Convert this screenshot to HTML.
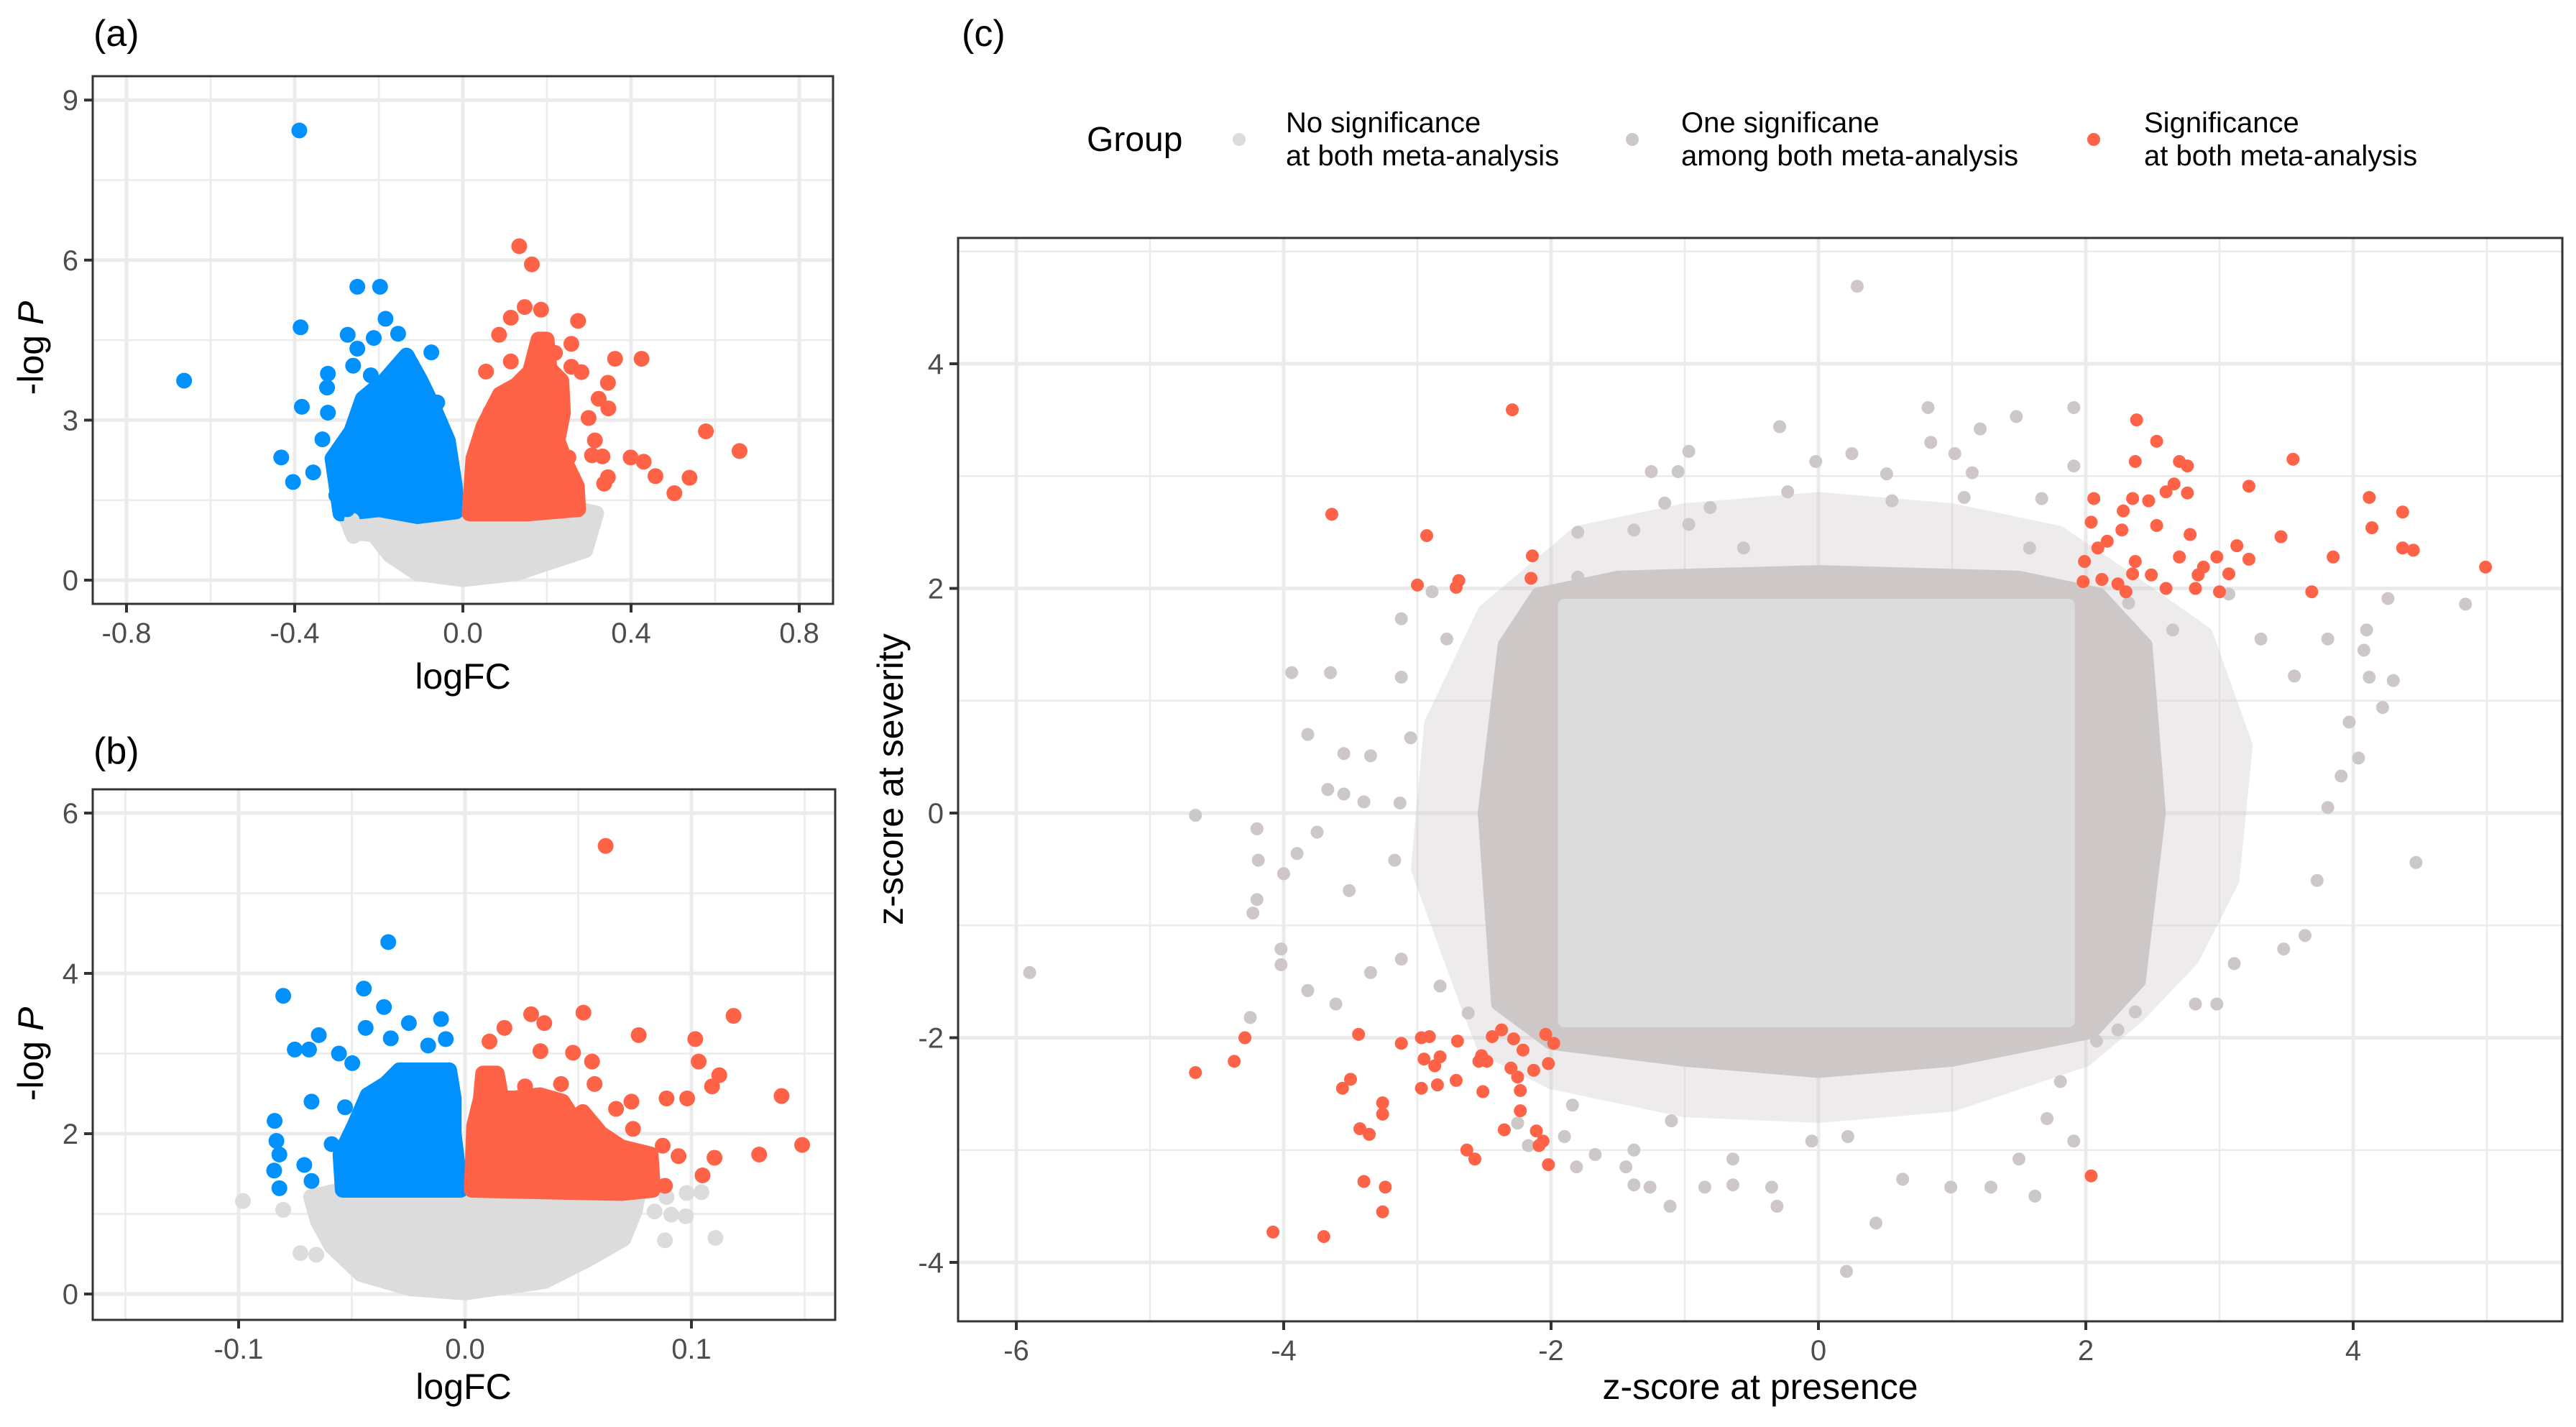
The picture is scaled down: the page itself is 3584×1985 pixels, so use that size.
<!DOCTYPE html>
<html><head><meta charset="utf-8"><style>
html,body{margin:0;padding:0;background:#fff;}
svg{display:block;font-family:"Liberation Sans",Arial,sans-serif;}
</style></head><body>
<svg id="fig" width="3584" height="1985" viewBox="0 0 3584 1985" xmlns="http://www.w3.org/2000/svg">
<rect x="0" y="0" width="3584" height="1985" fill="#fff"/>
<g id="layer"></g>
</svg>
<script>
// ---- Panel (a) data ----
const aBlueX=[-0.389,-0.663,-0.386,-0.383,-0.432,-0.404,-0.356,-0.251,-0.197,-0.184,-0.274,-0.212,-0.154,-0.251,-0.261,-0.219,-0.075,-0.321,-0.323,-0.321,-0.334,-0.301,-0.275,-0.061,-0.058,-0.048];
const aBlueY=[8.43,3.74,4.74,3.25,2.30,1.84,2.02,5.50,5.50,4.90,4.60,4.54,4.62,4.34,4.02,3.84,4.27,3.87,3.61,3.14,2.64,1.59,1.33,3.33,3.01,2.49];
const aBlueHullX=[-0.291,-0.310,-0.265,-0.238,-0.186,-0.134,-0.101,-0.069,-0.036,-0.019,-0.016,-0.108,-0.199];
const aBlueHullY=[1.25,2.28,2.79,3.40,3.74,4.21,3.74,3.22,2.62,1.76,1.29,1.20,1.33];
const aRedX=[0.134,0.164,0.147,0.114,0.186,0.274,0.086,0.258,0.219,0.362,0.425,0.114,0.055,0.258,0.282,0.345,0.323,0.346,0.299,0.314,0.578,0.658,0.251,0.307,0.332,0.399,0.430,0.458,0.539,0.503,0.345,0.336,0.052,0.065];
const aRedY=[6.26,5.92,5.12,4.92,5.07,4.86,4.60,4.43,4.26,4.15,4.15,4.10,3.91,4.00,3.90,3.70,3.40,3.22,3.04,2.62,2.79,2.42,2.30,2.34,2.32,2.30,2.22,1.95,1.92,1.63,1.93,1.81,2.84,3.14];
const aRedHullX=[0.016,0.025,0.049,0.088,0.127,0.160,0.180,0.199,0.206,0.234,0.238,0.225,0.245,0.271,0.274,0.153];
const aRedHullY=[1.25,2.28,2.88,3.48,3.65,3.91,4.51,4.51,3.96,3.74,3.14,2.62,2.19,1.76,1.33,1.25];
const aGrayHullX=[-0.278,-0.199,-0.108,-0.023,0,0.016,0.153,0.271,0.317,0.291,0.206,0.127,0,-0.108,-0.173,-0.212,-0.264];
const aGrayHullY=[1.20,1.33,1.33,1.25,1.07,1.33,1.33,1.33,1.25,0.56,0.34,0.13,0.02,0.13,0.47,0.86,0.90];
const aGrayX=[-0.260,-0.264,0.310,0.304,0.280,0.221,0.190];
const aGrayY=[0.83,1.12,1.20,0.99,0.60,0.66,0.43];
const aXTicks=[-0.8,-0.4,0,0.4,0.8], aXTickLabels=["-0.8","-0.4","0.0","0.4","0.8"], aXMinor=[-0.6,-0.2,0.2,0.6];
const aYTicks=[0,3,6,9], aYTickLabels=["0","3","6","9"], aYMinor=[1.5,4.5,7.5];

// ---- Panel (b) data ----
const bBlueX=[-0.0339,-0.0803,-0.0447,-0.0358,-0.0439,-0.0248,-0.0106,-0.0085,-0.0163,-0.0646,-0.0689,-0.0752,-0.0557,-0.0678,-0.0841,-0.0833,-0.0820,-0.0843,-0.0820,-0.0710,-0.0678,-0.0589,-0.0530,-0.0498,-0.0328];
const bBlueY=[4.39,3.72,3.81,3.58,3.32,3.38,3.43,3.18,3.10,3.23,3.05,3.05,3.00,2.40,2.16,1.91,1.74,1.54,1.32,1.61,1.41,1.87,2.33,2.88,3.19];
const bBlueHullX=[-0.054,-0.055,-0.049,-0.043,-0.035,-0.029,-0.018,-0.007,-0.005,-0.005,-0.002];
const bBlueHullY=[1.30,1.74,2.09,2.48,2.62,2.79,2.79,2.79,2.44,2.00,1.30];
const bRedX=[0.0621,0.0292,0.0523,0.0350,0.0174,0.0108,0.0767,0.1017,0.1186,0.1032,0.1123,0.1091,0.1398,0.0981,0.0890,0.0735,0.0667,0.0742,0.0873,0.0943,0.1102,0.1299,0.1489,0.1049,0.0883,0.0477,0.0561,0.0572,0.0424,0.0333,0.0265];
const bRedY=[5.59,3.49,3.51,3.38,3.32,3.15,3.23,3.18,3.47,2.90,2.73,2.59,2.47,2.44,2.44,2.40,2.31,2.06,1.85,1.72,1.70,1.74,1.86,1.48,1.35,3.01,2.90,2.62,2.62,3.03,2.59];
const bRedHullX=[0.003,0.004,0.007,0.008,0.014,0.016,0.022,0.033,0.043,0.048,0.052,0.060,0.069,0.082,0.083,0.069];
const bRedHullY=[1.30,2.09,2.44,2.75,2.75,2.44,2.44,2.48,2.40,2.18,2.27,2.00,1.83,1.74,1.30,1.26];
const bGrayHullX=[-0.068,-0.046,0,0.077,0.075,0.070,0.054,0.035,0,-0.024,-0.046,-0.059,-0.065];
const bGrayHullY=[1.21,1.35,1.35,1.35,1.04,0.69,0.43,0.16,0.02,0.07,0.25,0.60,0.91];
const bGrayX=[-0.0981,-0.0803,-0.0727,-0.0657,-0.0456,0.089,0.0979,0.1044,0.0837,0.0911,0.0975,0.0883,0.1106,0.0689];
const bGrayY=[1.16,1.05,0.51,0.49,0.27,1.21,1.26,1.27,1.03,0.99,0.97,0.67,0.70,0.73];
const bXTicks=[-0.1,0,0.1], bXTickLabels=["-0.1","0.0","0.1"], bXMinor=[-0.15,-0.05,0.05,0.15];
const bYTicks=[0,2,4,6], bYTickLabels=["0","2","4","6"], bYMinor=[1,3,5];

// ---- Panel (c) data ----
const cSparseHullX=[-2.6,-3.0,-2.9,-2.5,-1.8,-1,0,1,1.8,2.3,2.9,3.2,3.1,2.8,2.4,2.0,1,0,-1,-2.0,-2.5];
const cSparseHullY=[-1.8,-0.5,0.8,1.8,2.5,2.7,2.8,2.7,2.5,2.1,1.6,0.6,-0.6,-1.3,-1.8,-2.2,-2.6,-2.7,-2.65,-2.4,-2.1];
const cWarmHullX=[-2.4,-2.5,-2.35,-2.1,-1.5,0,1.5,2.1,2.45,2.55,2.4,2.05,1,0,-1,-2.0];
const cWarmHullY=[-1.7,0,1.5,1.95,2.1,2.15,2.1,1.95,1.5,0,-1.5,-1.95,-2.2,-2.3,-2.2,-2.05];
const cLightHullX=[-1.9,-1.9,1.87,1.87];
const cLightHullY=[-1.85,1.85,1.85,-1.85];
const cWarmX=[0.29,-5.90,-4.66,-3.94,-3.65,-3.82,-4.20,-4.19,-4.00,-4.20,-4.23,-4.02,-4.02,-4.25,-3.82,-3.55,-3.35,-3.55,-3.40,-3.67,-3.75,-3.90,-3.51,-3.12,-2.89,-3.12,-2.78,-3.05,-3.13,-3.17,-3.12,-3.35,-3.61,-2.83,-2.62,-1.80,-1.80,-1.38,-1.25,-0.97,-1.05,-1.15,-0.97,-0.81,-0.29,-0.02,-0.23,0.25,0.51,0.82,0.84,1.02,1.15,1.21,1.48,1.67,1.91,1.91,1.09,0.55,-0.56,1.58,2.32,2.65,3.07,3.31,3.56,3.81,4.10,4.12,4.26,4.30,4.22,4.08,3.97,4.04,3.91,3.81,4.84,4.47,3.73,3.64,3.48,3.11,2.98,2.82,2.37,2.24,2.08,1.91,1.81,1.71,1.62,1.50,1.29,0.99,0.43,0.21,0.63,0.22,-0.05,-0.35,-0.31,-0.64,-0.85,-1.11,-1.26,-1.38,-1.44,-1.38,-1.10,-0.64,-1.81,-1.67,-1.90,-1.84,-2.17,-2.25];
const cWarmY=[4.69,-1.42,-0.02,1.25,1.25,0.70,-0.14,-0.42,-0.54,-0.77,-0.89,-1.21,-1.35,-1.82,-1.58,0.53,0.51,0.17,0.10,0.21,-0.17,-0.36,-0.69,1.73,1.97,1.21,1.55,0.67,0.09,-0.42,-1.30,-1.42,-1.70,-1.54,-1.78,2.10,2.50,2.52,3.04,3.22,3.04,2.76,2.57,2.72,3.44,3.13,2.86,3.20,3.02,3.61,3.30,3.20,3.03,3.42,3.53,2.80,3.61,3.09,2.81,2.78,2.36,2.36,1.87,1.63,1.95,1.55,1.22,1.55,1.63,1.21,1.91,1.18,0.94,1.45,0.81,0.49,0.33,0.05,1.86,-0.44,-0.60,-1.09,-1.21,-1.34,-1.70,-1.70,-1.77,-1.93,-2.03,-2.92,-2.39,-2.72,-3.41,-3.08,-3.33,-3.33,-3.65,-4.08,-3.26,-2.88,-2.92,-3.33,-3.50,-3.31,-3.33,-3.50,-3.33,-3.31,-3.15,-3.00,-2.74,-3.08,-3.15,-3.04,-2.88,-2.60,-2.96,-2.76];
const cRedX=[-2.29,-3.64,-2.93,-3.00,-2.69,-2.71,-2.14,-2.15,2.38,2.53,2.70,2.76,2.37,3.55,3.22,2.06,2.35,2.47,2.60,2.66,2.76,2.28,2.04,2.53,2.27,2.78,3.46,4.12,4.37,4.14,4.37,4.45,4.99,3.85,3.69,3.13,2.98,3.22,2.88,2.84,3.07,3.00,2.70,2.49,2.35,2.24,2.12,1.99,1.98,2.09,2.16,2.37,2.60,2.82,2.30,2.04,-4.66,-4.37,-4.29,-4.08,-3.70,-3.56,-3.50,-3.44,-3.43,-3.36,-3.40,-3.26,-3.26,-3.24,-3.26,-3.12,-2.97,-2.91,-2.95,-2.87,-2.83,-2.97,-2.85,-2.70,-2.71,-2.63,-2.57,-2.54,-2.48,-2.51,-2.44,-2.37,-2.35,-2.28,-2.30,-2.25,-2.21,-2.23,-2.23,-2.13,-2.11,-2.06,-2.04,-1.98,-2.02,-2.09,-2.02,-2.52];
const cRedY=[3.59,2.66,2.47,2.03,2.07,2.01,2.29,2.09,3.50,3.31,3.13,3.09,3.13,3.15,2.91,2.80,2.80,2.78,2.86,2.93,2.85,2.69,2.59,2.56,2.52,2.48,2.46,2.81,2.68,2.54,2.36,2.34,2.19,2.28,1.97,2.38,2.28,2.26,2.19,2.12,2.13,1.97,2.28,2.12,2.13,2.04,2.08,2.24,2.06,2.36,2.42,2.24,2.00,2.00,1.97,-3.23,-2.31,-2.21,-2.00,-3.73,-3.77,-2.45,-2.37,-1.97,-2.81,-2.86,-3.28,-2.58,-2.68,-3.33,-3.55,-2.05,-2.00,-1.99,-2.19,-2.25,-2.17,-2.45,-2.42,-2.03,-2.38,-3.00,-3.08,-2.21,-2.21,-2.48,-1.99,-1.93,-2.82,-2.01,-2.27,-2.35,-2.11,-2.47,-2.65,-2.29,-2.83,-2.92,-1.97,-2.05,-2.23,-2.96,-3.13,-2.16];
const cXTicks=[-6,-4,-2,0,2,4], cXTickLabels=["-6","-4","-2","0","2","4"], cXMinor=[-5,-3,-1,1,3,5];
const cYTicks=[-4,-2,0,2,4], cYTickLabels=["-4","-2","0","2","4"], cYMinor=[-3,-1,1,3,5];

const NS="http://www.w3.org/2000/svg";
const layer=document.getElementById('layer');
function mk(tag,attrs,parent){const e=document.createElementNS(NS,tag);for(const k in attrs)e.setAttribute(k,attrs[k]);(parent||layer).appendChild(e);return e;}

const BLUE="#0091FF", RED="#FF6347", LIGHT="#DCDCDC", WARM="#CDC7C7";

function panel(p){
  const g=mk('g',{});
  
  
  const sx=v=>p.x0+p.kx*v, sy=v=>p.y0-p.ky*v;
  p.xMinor.forEach(v=>{const l=mk('line',{x1:sx(v),x2:sx(v),y1:p.top,y2:p.bottom,stroke:'#EBEBEB','stroke-width':2.5},g);
    
    });
  p.yMinor.forEach(v=>{if(sy(v)<p.top)return;const l=mk('line',{x1:p.left,x2:p.right,y1:sy(v),y2:sy(v),stroke:'#EBEBEB','stroke-width':2.5},g);
    
    });
  p.xTicks.forEach(v=>{const l=mk('line',{x1:sx(v),x2:sx(v),y1:p.top,y2:p.bottom,stroke:'#EBEBEB','stroke-width':5},g);
    
    });
  p.yTicks.forEach(v=>{const l=mk('line',{x1:p.left,x2:p.right,y1:sy(v),y2:sy(v),stroke:'#EBEBEB','stroke-width':5},g);
    
    });
  const clipId='clip-'+p.name;
  const defs=mk('defs',{},g);const cp=mk('clipPath',{id:clipId},defs);mk('rect',{x:p.left,y:p.top,width:p.right-p.left,height:p.bottom-p.top},cp);
  const marks=mk('g',{'clip-path':'url(#'+clipId+')'},g);
  
  
  p.hulls.forEach(h=>{
    const pts=h.xs.map((x,i)=>sx(x)+','+sy(h.ys[i])).join(' ');
    const poly=mk('polygon',{points:pts,fill:h.color,stroke:h.color,'stroke-width':2*p.r,'stroke-linejoin':'round','opacity':h.opacity||1},marks);
    
    
  });
  p.series.forEach(s=>{
    s.xs.forEach((x,i)=>{
      const c=mk('circle',{cx:sx(x),cy:sy(s.ys[i]),r:p.r,fill:s.color},marks);
      
      
    });
  });
  const b=mk('rect',{x:p.left,y:p.top,width:p.right-p.left,height:p.bottom-p.top,fill:'none',stroke:'#333','stroke-width':3},g);
  
  
  p.xTicks.forEach((v,i)=>{
    const t=mk('line',{x1:sx(v),x2:sx(v),y1:p.bottom,y2:p.bottom+12,stroke:'#333','stroke-width':4},g);
    
    
    const tx=mk('text',{x:sx(v),y:p.bottom+54,'font-size':40,fill:'#4D4D4D','text-anchor':'middle'},g);
    tx.textContent=p.xLabels[i];
    
    
  });
  p.yTicks.forEach((v,i)=>{
    const t=mk('line',{x1:p.left-12,x2:p.left,y1:sy(v),y2:sy(v),stroke:'#333','stroke-width':4},g);
    
    
    const tx=mk('text',{x:p.left-20,y:sy(v)+14,'font-size':40,fill:'#4D4D4D','text-anchor':'end'},g);
    tx.textContent=p.yLabels[i];
    
    
  });
  return {g,sx,sy};
}

panel({name:'panel-a-volcano',left:129,right:1159,top:106,bottom:840,x0:644,kx:585,y0:807,ky:74.2,r:11,
  xMinor:aXMinor,yMinor:aYMinor,xTicks:aXTicks,yTicks:aYTicks,xLabels:aXTickLabels,yLabels:aYTickLabels,
  hulls:[{xs:aGrayHullX,ys:aGrayHullY,color:LIGHT,name:'nonsignificant-cloud'},{xs:aBlueHullX,ys:aBlueHullY,color:BLUE,name:'down-regulated-cloud'},{xs:aRedHullX,ys:aRedHullY,color:RED,name:'up-regulated-cloud'}],
  series:[{xs:aGrayX,ys:aGrayY,color:LIGHT,name:'nonsignificant-point'},{xs:aBlueX,ys:aBlueY,color:BLUE,name:'down-regulated-point'},{xs:aRedX,ys:aRedY,color:RED,name:'up-regulated-point'}]});

panel({name:'panel-b-volcano',left:129,right:1162,top:1098,bottom:1836,x0:647,kx:3150,y0:1800,ky:111.5,r:11,
  xMinor:bXMinor,yMinor:bYMinor,xTicks:bXTicks,yTicks:bYTicks,xLabels:bXTickLabels,yLabels:bYTickLabels,
  hulls:[{xs:bGrayHullX,ys:bGrayHullY,color:LIGHT,name:'nonsignificant-cloud'},{xs:bBlueHullX,ys:bBlueHullY,color:BLUE,name:'down-regulated-cloud'},{xs:bRedHullX,ys:bRedHullY,color:RED,name:'up-regulated-cloud'}],
  series:[{xs:bGrayX,ys:bGrayY,color:LIGHT,name:'nonsignificant-point'},{xs:bBlueX,ys:bBlueY,color:BLUE,name:'down-regulated-point'},{xs:bRedX,ys:bRedY,color:RED,name:'up-regulated-point'}]});

panel({name:'panel-c-zscore-scatter',left:1333,right:3565,top:331,bottom:1838,x0:2530,kx:186,y0:1131,ky:156.25,r:9,
  xMinor:cXMinor,yMinor:cYMinor,xTicks:cXTicks,yTicks:cYTicks,xLabels:cXTickLabels,yLabels:cYTickLabels,
  hulls:[{xs:cSparseHullX,ys:cSparseHullY,color:WARM,name:'one-significance-sparse-cloud',opacity:0.35},{xs:cWarmHullX,ys:cWarmHullY,color:WARM,name:'one-significance-cloud'},{xs:cLightHullX,ys:cLightHullY,color:LIGHT,name:'no-significance-cloud'}],
  series:[{xs:cWarmX,ys:cWarmY,color:WARM,name:'one-significance-point'},{xs:cRedX,ys:cRedY,color:RED,name:'both-significance-point'}]});

function txt(x,y,s,size,name,extra){const t=mk('text',Object.assign({x:x,y:y,'font-size':size,fill:'#000'},extra||{}));t.textContent=s;
  
  
  return t;}
txt(130,64,'(a)',52,'panel-a-label');
txt(130,1062,'(b)',52,'panel-b-label');
txt(1338,64,'(c)',52,'panel-c-label');
txt(644,958,'logFC',50,'panel-a-x-axis-title',{'text-anchor':'middle'});
txt(645,1946,'logFC',50,'panel-b-x-axis-title',{'text-anchor':'middle'});
txt(2449,1946,'z-score at presence',50,'panel-c-x-axis-title',{'text-anchor':'middle'});
function ylab(cx,cy,name,parts){
  const t=mk('text',{x:0,y:0,'font-size':50,fill:'#000','text-anchor':'middle',transform:'translate('+cx+','+cy+') rotate(-90)'});
  
  
  parts.forEach(p=>{const s=mk('tspan',p.italic?{'font-style':'italic'}:{},t);s.textContent=p.t;});
  return t;
}
ylab(60,484,'panel-a-y-axis-title',[{t:'-log '},{t:'P',italic:true}]);
ylab(60,1466,'panel-b-y-axis-title',[{t:'-log '},{t:'P',italic:true}]);
ylab(1256,1084,'panel-c-y-axis-title',[{t:'z-score at severity'}]);

const lg=mk('g',{});


const legendLabels=[["No significance","at both meta-analysis"],["One significane","among both meta-analysis"],["Significance","at both meta-analysis"]];
const legendColors=[LIGHT,WARM,RED];
const legendDotX=[1724,2271,2913], legendTextX=[1789,2339,2983];
const gt=mk('text',{x:1512,y:210,'font-size':48,fill:'#000'},lg);gt.textContent='Group';


legendLabels.forEach((lab,i)=>{
  const c=mk('circle',{cx:legendDotX[i],cy:194,r:9,fill:legendColors[i]},lg);
  
  
  const t=mk('text',{x:legendTextX[i],y:184,'font-size':40,fill:'#000'},lg);
  
  
  const s1=mk('tspan',{x:legendTextX[i],y:184},t);s1.textContent=lab[0];
  const s2=mk('tspan',{x:legendTextX[i],y:230},t);s2.textContent=lab[1];
});
</script>
</body></html>
